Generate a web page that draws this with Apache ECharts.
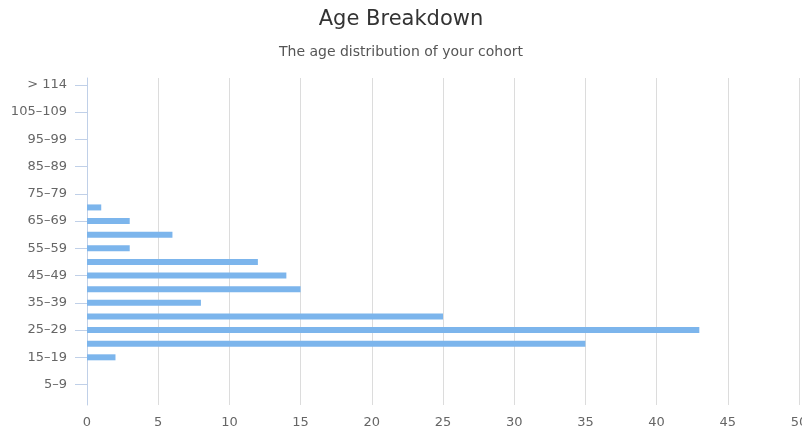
<!DOCTYPE html>
<html>
<head>
<meta charset="utf-8">
<script src="https://cdn.jsdelivr.net/npm/echarts@6/dist/echarts.min.js"></script>
<style>html,body{margin:0;padding:0;background:#fff}#c{width:802px;height:436px}</style>
</head>
<body>
<div id="c"></div>
<script>
const categories = ['0–4','5–9','10–14','15–19','20–24','25–29','30–34','35–39','40–44','45–49','50–54','55–59','60–64','65–69','70–74','75–79','80–84','85–89','90–94','95–99','100–104','105–109','110–114','> 114'];
const counts = [0,0,0,2,35,43,25,8,15,14,12,3,6,3,1,0,0,0,0,0,0,0,0,0];
const xTicks = {min: 0, max: 50, interval: 5};

const FONT = '"DejaVu Sans", Verdana, sans-serif';
const showOdd = (i) => i % 2 === 1;
const chart = echarts.init(document.getElementById('c'));
chart.setOption({
  animation: false,
  backgroundColor: '#fff',
  title: {
    text: 'Age Breakdown',
    subtext: 'The age distribution of your cohort',
    left: 'center',
    top: 4,
    itemGap: 15,
    textStyle: {fontFamily: FONT, fontSize: 21, fontWeight: 'normal', color: '#333'},
    subtextStyle: {fontFamily: FONT, fontSize: 14, color: '#555'}
  },
  grid: {left: 87, right: 3, top: 78, bottom: 31, containLabel: false, outerBoundsMode: 'none'},
  xAxis: {
    type: 'value',
    min: xTicks.min, max: xTicks.max, interval: xTicks.interval,
    axisLine: {show: false},
    axisTick: {show: false},
    axisLabel: {fontFamily: FONT, fontSize: 13, color: '#666', margin: 11},
    splitLine: {show: true, lineStyle: {color: '#dcdcdc', width: 1}}
  },
  yAxis: {
    type: 'category',
    data: categories,
    axisLine: {show: true, lineStyle: {color: '#c0d0e8', width: 1}},
    axisTick: {show: true, interval: showOdd, alignWithLabel: true, length: 12, lineStyle: {color: '#c0d0e8'}},
    axisLabel: {interval: showOdd, fontFamily: FONT, fontSize: 13, color: '#666', margin: 20},
    splitLine: {show: false}
  },
  series: [{
    type: 'bar',
    data: counts,
    barWidth: 6,
    itemStyle: {color: '#7cb5ec'}
  }]
});
</script>
</body>
</html>
